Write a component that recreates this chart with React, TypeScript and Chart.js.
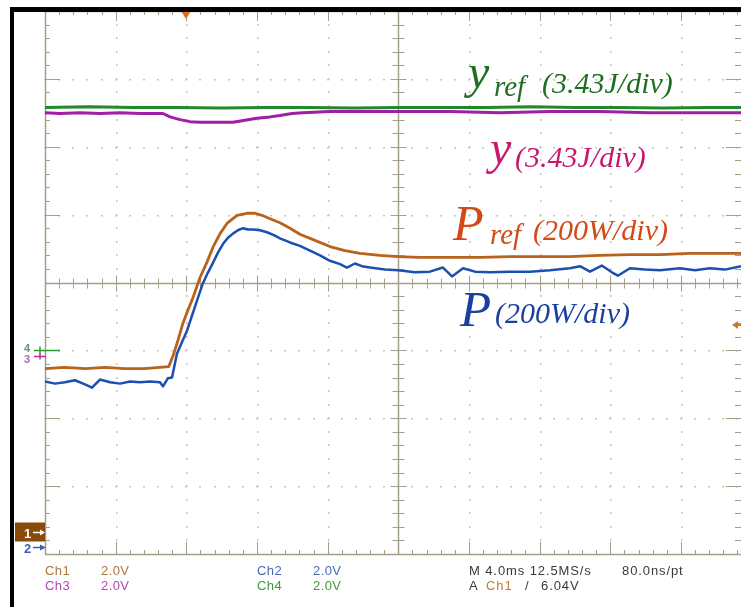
import React, { useEffect, useRef } from "react";
import { Chart, registerables } from "chart.js";

Chart.register(...registerables);

// Horizontal: time in ms (4.0 ms/div, trigger reference at 0). Vertical: graticule divisions.
const pRefTime = [-20, -18.9, -17.7, -16.6, -15.5, -14.4, -13.5, -13.0, -12.75, -12.47, -12.19, -11.91, -11.62, -11.23, -10.83, -10.49, -10.09, -9.7, -9.13, -8.57, -8.11, -7.72, -7.26, -6.7, -6.13, -5.57, -4.72, -3.87, -3.02, -2.17, -1.04, 0, 1.22, 2.92, 4.62, 6.32, 8.02, 9.71, 11.41, 13.11, 14.81, 16.51, 18.21, 19.4];
const pRefValue = [-1.27, -1.25, -1.27, -1.25, -1.27, -1.27, -1.25, -1.24, -1.08, -0.85, -0.6, -0.41, -0.22, 0.07, 0.3, 0.52, 0.72, 0.87, 0.99, 1.02, 1.02, 0.99, 0.94, 0.88, 0.8, 0.71, 0.62, 0.53, 0.47, 0.43, 0.4, 0.38, 0.37, 0.37, 0.37, 0.38, 0.38, 0.38, 0.4, 0.41, 0.41, 0.43, 0.43, 0.43];

const pTime = [-20, -19.43, -18.87, -18.3, -17.74, -17.34, -16.89, -16.32, -15.75, -15.19, -14.62, -14.06, -13.49, -13.32, -13.04, -12.81, -12.53, -12.25, -11.96, -11.68, -11.4, -11.06, -10.77, -10.49, -10.21, -9.92, -9.64, -9.36, -9.08, -8.79, -8.51, -8.23, -7.83, -7.43, -6.98, -6.7, -6.13, -5.57, -5.0, -4.43, -3.87, -3.3, -2.91, -2.45, -2.06, -1.6, -0.75, 0, 0.94, 1.79, 2.53, 3.04, 3.66, 4.34, 5.19, 6.32, 7.45, 8.58, 9.71, 10.28, 10.85, 11.52, 12.09, 12.43, 13.11, 13.96, 14.81, 15.94, 16.79, 17.64, 18.49, 19.4];
const pValue = [-1.46, -1.49, -1.47, -1.44, -1.5, -1.55, -1.43, -1.47, -1.49, -1.46, -1.47, -1.46, -1.47, -1.53, -1.41, -1.4, -1.05, -0.88, -0.71, -0.49, -0.27, -0.01, 0.15, 0.29, 0.44, 0.57, 0.66, 0.72, 0.77, 0.8, 0.78, 0.78, 0.77, 0.74, 0.69, 0.65, 0.59, 0.54, 0.47, 0.4, 0.32, 0.27, 0.22, 0.28, 0.24, 0.22, 0.19, 0.18, 0.15, 0.16, 0.22, 0.09, 0.21, 0.16, 0.15, 0.16, 0.16, 0.18, 0.21, 0.24, 0.16, 0.25, 0.15, 0.1, 0.21, 0.19, 0.18, 0.21, 0.18, 0.21, 0.19, 0.24];

const yTime = [-20, -19.15, -18.02, -16.89, -15.75, -14.62, -13.77, -13.32, -12.92, -12.36, -11.79, -11.23, -10.66, -10.09, -9.36, -8.68, -8.0, -7.26, -6.7, -6.02, -5.4, -3.87, -2.17, 0.09, 2.92, 5.75, 8.58, 11.41, 14.24, 17.08, 19.4];
const yValue = [2.5, 2.49, 2.5, 2.49, 2.5, 2.49, 2.49, 2.49, 2.44, 2.4, 2.37, 2.36, 2.36, 2.36, 2.36, 2.39, 2.42, 2.44, 2.46, 2.49, 2.5, 2.52, 2.52, 2.52, 2.52, 2.5, 2.52, 2.52, 2.5, 2.5, 2.5];

const yRefTime = [-20, -17.5, -15, -12.5, -10, -7.5, -5, -2.5, 0, 2.5, 5, 7.5, 10, 12.5, 15, 17.5, 19.4];
const yRefValue = [2.58, 2.59, 2.58, 2.58, 2.57, 2.58, 2.58, 2.57, 2.58, 2.58, 2.58, 2.59, 2.58, 2.58, 2.57, 2.58, 2.58];

// Channel ground markers (div) and trigger
const channelMarkers = ["1", "2", "3", "4"];
const channelLevels = [-3.67, -3.89, -1.09, -1.0];
const triggerTime = -12;
const triggerLevel = -0.63;

const readoutLeft = [
  { text: "Ch1", x: 45, row: 0, color: "#a8773f" },
  { text: "2.0V", x: 101, row: 0, color: "#a8773f" },
  { text: "Ch3", x: 45, row: 1, color: "#b046b6" },
  { text: "2.0V", x: 101, row: 1, color: "#b046b6" },
  { text: "Ch2", x: 257, row: 0, color: "#4a68b2" },
  { text: "2.0V", x: 313, row: 0, color: "#4a68b2" },
  { text: "Ch4", x: 257, row: 1, color: "#3c9a3c" },
  { text: "2.0V", x: 313, row: 1, color: "#3c9a3c" },
  { text: "M 4.0ms 12.5MS/s", x: 469, row: 0, color: "#3a3a3a" },
  { text: "80.0ns/pt", x: 622, row: 0, color: "#3a3a3a" },
  { text: "A", x: 469, row: 1, color: "#3a3a3a" },
  { text: "Ch1", x: 486, row: 1, color: "#c47a2c" },
  { text: "/", x: 525, row: 1, color: "#3a3a3a" },
  { text: "6.04V", x: 541, row: 1, color: "#3a3a3a" },
];

const toPts = (t: number[], v: number[]) => t.map((tt, i) => ({ x: tt, y: v[i] }));

const graticule = {
  id: "graticule",
  beforeDatasetsDraw(chart: any) {
    const { ctx, chartArea: a, scales } = chart;
    const xs = scales.x;
    const ys = scales.y;
    ctx.save();
    ctx.fillStyle = "#c8c4b6";
    for (let d = -4; d <= 4; d++) {
      if (d === 0) continue;
      const px = Math.round(xs.getPixelForValue(d * 4));
      for (let k = -20; k <= 20; k++) {
        const py = Math.round(ys.getPixelForValue(k / 5));
        ctx.fillRect(px, py - 1, 1.5, 2);
      }
    }
    for (let d = -3; d <= 3; d++) {
      if (d === 0) continue;
      const py = Math.round(ys.getPixelForValue(d));
      for (let k = -25; k <= 25; k++) {
        const px = Math.round(xs.getPixelForValue(k * 0.8));
        ctx.fillRect(px - 1, py, 2, 1.5);
      }
    }
    ctx.strokeStyle = "#a59f8a";
    ctx.lineWidth = 1.5;
    const cx = Math.round(xs.getPixelForValue(0)) + 0.5;
    const cy = Math.round(ys.getPixelForValue(0)) + 0.5;
    ctx.beginPath();
    ctx.moveTo(a.left + 0.5, a.top);
    ctx.lineTo(a.left + 0.5, a.bottom);
    ctx.moveTo(a.left, a.bottom + 0.5);
    ctx.lineTo(a.right, a.bottom + 0.5);
    ctx.moveTo(a.left, a.top + 0.5);
    ctx.lineTo(a.right, a.top + 0.5);
    ctx.moveTo(a.left, cy);
    ctx.lineTo(a.right, cy);
    ctx.moveTo(cx, a.top);
    ctx.lineTo(cx, a.bottom);
    ctx.stroke();
    ctx.lineWidth = 1;
    ctx.beginPath();
    for (let k = -20; k <= 20; k++) {
      const py = Math.round(ys.getPixelForValue(k / 5)) + 0.5;
      const major = k % 5 === 0;
      ctx.moveTo(a.left, py);
      ctx.lineTo(a.left + (major ? 15 : 5), py);
      ctx.moveTo(a.right, py);
      ctx.lineTo(a.right - (major ? 15 : 6), py);
      ctx.moveTo(cx - (major ? 8 : 6), py);
      ctx.lineTo(cx + (major ? 8 : 6), py);
    }
    for (let k = -25; k <= 25; k++) {
      const px = Math.round(xs.getPixelForValue(k * 0.8)) + 0.5;
      const major = k % 5 === 0;
      ctx.moveTo(px, a.top);
      ctx.lineTo(px, a.top + (major ? 10 : 4));
      ctx.moveTo(px, a.bottom);
      ctx.lineTo(px, a.bottom - (major ? 12 : 4));
      ctx.moveTo(px, cy - (major ? 8 : 5));
      ctx.lineTo(px, cy + (major ? 8 : 5));
    }
    ctx.stroke();
    ctx.restore();
  },
  afterDraw(chart: any) {
    const { ctx, chartArea: a, scales } = chart;
    const xs = scales.x;
    const ys = scales.y;
    ctx.save();
    const lv = (name: string) => Math.round(ys.getPixelForValue(channelLevels[channelMarkers.indexOf(name)])) + 0.5;
    ctx.font = "bold 11px 'Liberation Sans'";
    let py = lv("4");
    ctx.strokeStyle = "#2f9a2f";
    ctx.lineWidth = 1.5;
    ctx.beginPath();
    ctx.moveTo(34, py); ctx.lineTo(60, py);
    ctx.moveTo(40, py - 4); ctx.lineTo(40, py + 4);
    ctx.stroke();
    ctx.fillStyle = "#6f8f70";
    ctx.fillText("4", 24, py + 1);
    py = lv("3");
    ctx.strokeStyle = "#c02aa0";
    ctx.beginPath();
    ctx.moveTo(34, py); ctx.lineTo(46, py);
    ctx.moveTo(40, py - 3); ctx.lineTo(40, py + 3);
    ctx.stroke();
    ctx.fillStyle = "#a070b0";
    ctx.fillText("3", 24, py + 6);
    py = lv("1");
    ctx.fillStyle = "#8a4a0a";
    ctx.fillRect(15, py - 10, 30, 19);
    ctx.fillStyle = "#ffffff";
    ctx.font = "bold 13px 'Liberation Sans'";
    ctx.fillText("1", 24, py + 5);
    ctx.strokeStyle = "#ffffff";
    ctx.lineWidth = 1.5;
    ctx.beginPath();
    ctx.moveTo(33, py); ctx.lineTo(43, py);
    ctx.stroke();
    ctx.beginPath();
    ctx.moveTo(45, py); ctx.lineTo(40, py - 3); ctx.lineTo(40, py + 3); ctx.closePath();
    ctx.fill();
    py = lv("2");
    ctx.fillStyle = "#3a5fb5";
    ctx.fillText("2", 24, py + 5);
    ctx.strokeStyle = "#3a5fb5";
    ctx.beginPath();
    ctx.moveTo(33, py); ctx.lineTo(43, py);
    ctx.stroke();
    ctx.beginPath();
    ctx.moveTo(46, py); ctx.lineTo(40, py - 3); ctx.lineTo(40, py + 3); ctx.closePath();
    ctx.fill();
    const tx = Math.round(xs.getPixelForValue(triggerTime));
    ctx.fillStyle = "#e2701e";
    ctx.beginPath();
    ctx.moveTo(tx - 5, a.top); ctx.lineTo(tx + 5, a.top); ctx.lineTo(tx, a.top + 8); ctx.closePath();
    ctx.fill();
    const ty = Math.round(ys.getPixelForValue(triggerLevel));
    ctx.fillStyle = "#c47a30";
    ctx.beginPath();
    ctx.moveTo(a.right - 9, ty); ctx.lineTo(a.right - 3, ty - 4); ctx.lineTo(a.right - 3, ty + 4); ctx.closePath();
    ctx.fill();
    ctx.fillRect(a.right - 4, ty - 1, 4, 2);
    ctx.restore();
  },
};

function Txt(p: { x: number; base: number; size: number; color: string; text: string; serif?: boolean; italic?: boolean; spacing?: number }) {
  const asc = p.serif ? 0.8375 : 0.8465;
  return (
    <div
      style={{
        position: "absolute",
        left: p.x,
        top: p.base - asc * p.size,
        fontSize: p.size,
        lineHeight: `${p.size}px`,
        fontFamily: p.serif ? "'Liberation Serif', 'Times New Roman', serif" : "'Liberation Sans', Arial, sans-serif",
        fontStyle: p.italic ? "italic" : "normal",
        color: p.color,
        whiteSpace: "nowrap",
        letterSpacing: p.spacing ?? 0,
      }}
    >
      {p.text}
    </div>
  );
}

export default function App() {
  const ref = useRef<HTMLCanvasElement | null>(null);
  useEffect(() => {
    if (!ref.current) return;
    const chart = new Chart(ref.current, {
      type: "line",
      data: {
        datasets: [
          { label: "yref", data: toPts(yRefTime, yRefValue), borderColor: "#23892a", borderWidth: 3 },
          { label: "y", data: toPts(yTime, yValue), borderColor: "#a01ea6", borderWidth: 3 },
          { label: "P", data: toPts(pTime, pValue), borderColor: "#1c4fb0", borderWidth: 2.5 },
          { label: "Pref", data: toPts(pRefTime, pRefValue), borderColor: "#b8621c", borderWidth: 2.8 },
        ],
      },
      options: {
        animation: false,
        responsive: false,
        devicePixelRatio: 1,
        layout: { padding: { left: 45, top: 11, right: 0, bottom: 53 } },
        elements: { point: { radius: 0 }, line: { tension: 0, borderJoinStyle: "round" } },
        plugins: { legend: { display: false }, tooltip: { enabled: false } },
        scales: {
          x: { type: "linear", min: -20, max: 19.4, display: false },
          y: { type: "linear", min: -4, max: 4, display: false },
        },
      },
      plugins: [graticule],
    } as any);
    return () => chart.destroy();
  }, []);

  return (
    <div style={{ position: "absolute", left: 0, top: 0, width: 741, height: 607, overflow: "hidden", background: "#ffffff" }}>
      <canvas ref={ref} width={741} height={607} style={{ position: "absolute", left: 0, top: 0, width: 741, height: 607 }} />
      <div style={{ position: "absolute", left: 10, top: 7, width: 731, height: 5, background: "#000" }} />
      <div style={{ position: "absolute", left: 10, top: 7, width: 4, height: 600, background: "#000" }} />

      <Txt serif italic x={468} base={88} size={48} color="#1f6e22" text="y" />
      <Txt serif italic x={494} base={96} size={29} color="#1f6e22" text="ref" />
      <Txt serif italic x={542} base={93} size={30} color="#1f6e22" text="(3.43J/div)" />

      <Txt serif italic x={490} base={164} size={48} color="#c8186e" text="y" />
      <Txt serif italic x={515} base={167} size={30} color="#c8186e" text="(3.43J/div)" />

      <Txt serif italic x={453} base={240} size={50} color="#d24a16" text="P" />
      <Txt serif italic x={490} base={244} size={29} color="#d24a16" text="ref" />
      <Txt serif italic x={533} base={240} size={30} color="#d24a16" text="(200W/div)" />

      <Txt serif italic x={460} base={327} size={51} color="#1a3f9e" text="P" />
      <Txt serif italic x={495} base={323} size={30} color="#1a3f9e" text="(200W/div)" />

      {readoutLeft.map((r, i) => (
        <Txt key={i} x={r.x} base={r.row === 0 ? 575 : 590} size={13} color={r.color} text={r.text} spacing={r.x >= 469 ? 0.9 : 0.4} />
      ))}
    </div>
  );
}
